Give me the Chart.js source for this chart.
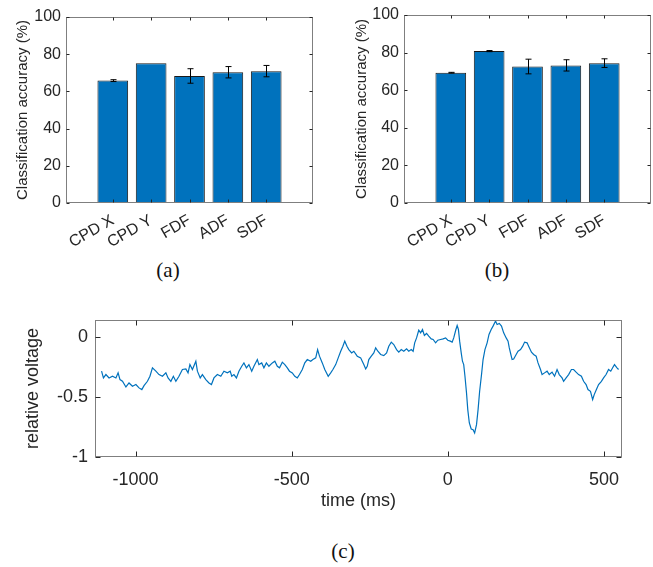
<!DOCTYPE html>
<html>
<head>
<meta charset="utf-8">
<script src="https://cdn.jsdelivr.net/npm/chart.js@4"></script>
<style>
  html, body { margin: 0; padding: 0; background: #fff; }
  #page { position: relative; width: 653px; height: 567px; overflow: hidden; }
  canvas { position: absolute; }
  .cap { position: absolute; width: 80px; margin-left: -40px; text-align: center;
         font-family: "Liberation Serif", "Times New Roman", serif; font-size: 21px; line-height: 24px; color: #111; }
</style>
</head>
<body>
<div id="page">
  <canvas id="chartA" width="330" height="250" style="left:0;top:0"></canvas>
  <canvas id="chartB" width="323" height="250" style="left:330px;top:0"></canvas>
  <canvas id="chartC" width="653" height="230" style="left:0;top:300px"></canvas>
  <div class="cap" style="left:168px;top:258px">(a)</div>
  <div class="cap" style="left:497px;top:258px">(b)</div>
  <div class="cap" style="left:343px;top:539px">(c)</div>
</div>
<script>
// bar panels (a) and (b)
const methods = ["CPD X", "CPD Y", "FDF", "ADF", "SDF"];
const accA = [65.8, 75.2, 68.3, 70.3, 70.9];
const errA = [0.5, 0, 3.9, 3.05, 3.05];
const accB = [69.3, 80.8, 72.6, 73.2, 74.4];
const errB = [0.2, 0.3, 3.9, 3.0, 2.3];
const accTicks = [0, 20, 40, 60, 80, 100];

// signal panel (c)
const timeMs = [
  -1109, -1103, -1095, -1085, -1074, -1063, -1056, -1050, -1042, -1031, -1021, -1010, -999, -989, -980, -973,
  -962, -954, -946, -935, -925, -914, -903, -896, -887, -879, -871, -861, -850, -839, -832, -826, -818, -807,
  -802, -793, -786, -775, -765, -757, -749, -738, -727, -717, -706, -697,
  -692, -685, -677, -669, -660, -653, -645, -637, -628, -621, -610, -605, -596, -589, -581, -573, -562, -554,
  -546, -539, -530, -522, -514, -507, -498, -490, -482, -475, -466, -458, -450, -439, -432, -423, -417, -411,
  -402, -394, -383, -375, -368, -359, -351, -343, -336, -330, -323, -317, -308, -301, -290,
  -279, -274, -269, -263, -258, -253, -245, -237, -231, -224, -215, -205, -196, -189, -181, -173, -164, -157,
  -149, -141, -132, -125, -117, -111, -106, -100, -93, -87, -81, -75, -68, -61, -53, -47, -39, -32, -23, -15,
  -7, 0, 8, 14, 19, 26, 30, 34, 38, 43, 47, 51, 55, 60, 64, 69, 75, 81, 86, 92, 97, 102, 108, 113, 119, 126,
  132, 139, 145,
  153, 158, 165, 172, 179, 187, 193, 197, 202, 206, 211, 219, 225, 233, 240, 246, 254, 259, 268, 275, 283,
  289, 297, 302, 310, 318, 325, 334, 342, 350, 357, 366, 371, 379, 387, 396, 403, 411, 419, 428, 435, 443,
  449, 457, 464, 469, 476, 483, 492, 499, 507, 515, 522, 528, 534, 542, 547
];
const voltage = [
  -0.286, -0.342, -0.314, -0.342, -0.328, -0.342, -0.300, -0.356, -0.370, -0.417, -0.384, -0.411, -0.397, -0.425, -0.439, -0.406,
  -0.370, -0.328, -0.258, -0.286, -0.314, -0.328, -0.300, -0.342, -0.370, -0.328, -0.370, -0.328, -0.272, -0.267, -0.300, -0.231, -0.272, -0.203,
  -0.286, -0.342, -0.314, -0.356, -0.384, -0.397, -0.342, -0.314, -0.328, -0.286, -0.300, -0.286,
  -0.328, -0.314, -0.342, -0.286, -0.245, -0.217, -0.258, -0.231, -0.286, -0.245, -0.189, -0.231, -0.217, -0.258, -0.217, -0.245, -0.217, -0.203,
  -0.245, -0.258, -0.211, -0.231, -0.258, -0.286, -0.300, -0.328, -0.342, -0.314, -0.272, -0.217, -0.189, -0.203, -0.189, -0.175, -0.106, -0.161,
  -0.217, -0.272, -0.328, -0.300, -0.272, -0.231, -0.175, -0.120, -0.078, -0.036, -0.078, -0.106, -0.134, -0.120, -0.161,
  -0.175, -0.203, -0.231, -0.267, -0.245, -0.189, -0.161, -0.134, -0.092, -0.120, -0.147, -0.156, -0.134, -0.078, -0.044, -0.064, -0.106, -0.128,
  -0.106, -0.120, -0.100, -0.120, -0.106, -0.120, -0.050, -0.009, 0.055, 0.033, 0.061, 0.011, 0.028, 0.006, -0.017, -0.022, -0.050, -0.028, -0.022, -0.017,
  -0.009, -0.028, -0.036, -0.044, -0.009, 0.061, 0.094, 0.061, -0.036, -0.134, -0.203, -0.231, -0.328, -0.467, -0.606, -0.717, -0.767, -0.773, -0.800, -0.731, -0.606, -0.453, -0.314, -0.189, -0.106, -0.050,
  0.020, 0.061, 0.089,
  0.131, 0.103, 0.111, 0.089, 0.033, -0.009, -0.036, -0.092, -0.147, -0.189, -0.184, -0.147, -0.120, -0.106, -0.078, -0.044, -0.050, -0.078, -0.128, -0.147, -0.161,
  -0.217, -0.272, -0.314, -0.300, -0.286, -0.314, -0.294, -0.328, -0.272, -0.314, -0.342, -0.370, -0.342, -0.314, -0.272, -0.272, -0.294, -0.314, -0.328, -0.370, -0.397,
  -0.439, -0.453, -0.522, -0.481, -0.439, -0.397, -0.370, -0.342, -0.314, -0.272, -0.286, -0.258, -0.231, -0.258, -0.272
];
const timeTicks = [-1000, -500, 0, 500];
const voltTicks = [-1, -0.5, 0];

const BLUE = "#0072BD";
const AXIS = "#262626";
const BOX = "#7f7f7f";

Chart.defaults.font.family = "'Liberation Sans', Arial, sans-serif";
Chart.defaults.color = AXIS;

// MATLAB-like box with inward tick marks on all four sides
const boxTicks = {
  id: "boxTicks",
  afterDatasetsDraw(chart, args, opts) {
    const { ctx, chartArea: a, scales } = chart;
    const len = opts.len || 4;
    const L = Math.round(a.left) + 0.5, R = Math.round(a.right) - 0.5;
    const T = Math.round(a.top) + 0.5, B = Math.round(a.bottom) - 0.5;
    ctx.save();
    ctx.lineWidth = 1;
    ctx.strokeStyle = BOX;
    ctx.strokeRect(L, T, R - L, B - T);
    ctx.strokeStyle = AXIS;
    ctx.beginPath();
    scales.x.ticks.forEach(t => {
      const px = Math.round(scales.x.getPixelForValue(t.value)) + 0.5;
      ctx.moveTo(px, B); ctx.lineTo(px, B - len);
      ctx.moveTo(px, T); ctx.lineTo(px, T + len);
    });
    scales.y.ticks.forEach(t => {
      const py = Math.round(scales.y.getPixelForValue(t.value)) + 0.5;
      ctx.moveTo(L, py); ctx.lineTo(L + len, py);
      ctx.moveTo(R, py); ctx.lineTo(R - len, py);
    });
    ctx.stroke();
    ctx.restore();
  }
};

const errorBars = {
  id: "errorBars",
  afterDatasetsDraw(chart, args, opts) {
    const errs = opts.errors;
    if (!errs) return;
    const { ctx, scales: { y } } = chart;
    const ds = chart.data.datasets[0];
    const meta = chart.getDatasetMeta(0);
    ctx.save();
    ctx.strokeStyle = "#000";
    ctx.lineWidth = 1;
    meta.data.forEach((bar, i) => {
      const e = errs[i];
      if (!e) return;
      const v = ds.data[i].y;
      const x = Math.round(bar.x) + 0.5;
      const top = y.getPixelForValue(v + e);
      const bot = y.getPixelForValue(v - e);
      ctx.beginPath();
      ctx.moveTo(x, top); ctx.lineTo(x, bot);
      ctx.moveTo(x - 3, top); ctx.lineTo(x + 3, top);
      ctx.moveTo(x - 3, bot); ctx.lineTo(x + 3, bot);
      ctx.stroke();
    });
    ctx.restore();
  }
};

function barChart(id, values, errors, pad, yWidth, titlePad) {
  new Chart(document.getElementById(id), {
    type: "bar",
    data: {
      datasets: [{
        data: values.map((v, i) => ({ x: i, y: v })),
        backgroundColor: BLUE,
        borderColor: "#1a1a1a",
        borderWidth: 1,
        barPercentage: 0.8,
        categoryPercentage: 1
      }]
    },
    options: {
      responsive: false,
      animation: false,
      layout: { padding: pad },
      plugins: {
        legend: { display: false },
        tooltip: { enabled: false },
        errorBars: { errors: errors },
        boxTicks: { len: 3 }
      },
      scales: {
        x: {
          type: "linear",
          offset: false,
          min: -1.22,
          max: 5.22,
          grid: { display: false, drawTicks: false, offset: false },
          border: { display: false },
          afterBuildTicks: s => { s.ticks = methods.map((_, i) => ({ value: i })); },
          afterFit: s => { s.height = 47; },
          ticks: {
            font: { size: 16 },
            padding: 8,
            minRotation: 30,
            maxRotation: 30,
            autoSkip: false,
            callback: v => methods[v]
          }
        },
        y: {
          min: 0,
          max: 100,
          grid: { display: false, drawTicks: false },
          border: { display: false },
          afterBuildTicks: s => { s.ticks = accTicks.map(v => ({ value: v })); },
          afterFit: s => { s.width = yWidth; },
          ticks: { font: { size: 16 }, padding: 5, callback: v => String(v) },
          title: {
            display: true,
            text: "Classification accuracy (%)",
            font: { size: 15 },
            padding: { top: titlePad, bottom: 0 }
          }
        }
      }
    },
    plugins: [errorBars, boxTicks]
  });
}

barChart("chartA", accA, errA, { top: 17, right: 17, left: 0, bottom: 0 }, 66, 14);
barChart("chartB", accB, errB, { top: 15, right: 2, left: 0, bottom: 0 }, 74, 23);

new Chart(document.getElementById("chartC"), {
  type: "line",
  data: {
    datasets: [{
      data: timeMs.map((t, i) => ({ x: t, y: voltage[i] })),
      borderColor: BLUE,
      borderWidth: 1.2,
      pointRadius: 0,
      tension: 0
    }]
  },
  options: {
    responsive: false,
    animation: false,
    layout: { padding: { top: 20, right: 31, left: 0, bottom: 0 } },
    plugins: {
      legend: { display: false },
      tooltip: { enabled: false },
      boxTicks: { len: 5 }
    },
    scales: {
      x: {
        type: "linear",
        min: -1130,
        max: 558,
        grid: { display: false, drawTicks: false },
        border: { display: false },
        afterBuildTicks: s => { s.ticks = timeTicks.map(v => ({ value: v })); },
        afterFit: s => { s.height = 73; },
        ticks: { font: { size: 18 }, padding: 12, maxRotation: 0, callback: v => String(v) },
        title: {
          display: true,
          text: "time (ms)",
          font: { size: 18 },
          padding: { top: 0, bottom: 18 }
        }
      },
      y: {
        min: -1,
        max: 0.14,
        grid: { display: false, drawTicks: false },
        border: { display: false },
        afterBuildTicks: s => { s.ticks = voltTicks.map(v => ({ value: v })); },
        afterFit: s => { s.width = 95; },
        ticks: { font: { size: 18 }, padding: 7, callback: v => String(v) },
        title: {
          display: true,
          text: "relative voltage",
          font: { size: 18 },
          padding: { top: 22, bottom: 0 }
        }
      }
    }
  },
  plugins: [boxTicks]
});
</script>
</body>
</html>
